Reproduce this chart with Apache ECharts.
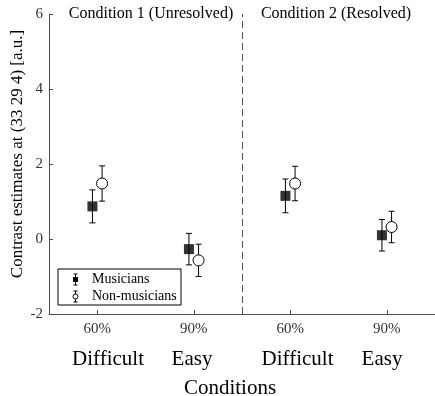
<!DOCTYPE html>
<html>
<head>
<meta charset="utf-8">
<script src="https://cdn.jsdelivr.net/npm/echarts@6/dist/echarts.min.js"></script>
<style>
  html, body { margin: 0; padding: 0; background: #fff; }
  #chart { width: 435px; height: 396px; }
</style>
</head>
<body>
<div id="chart"></div>
<script>
// Tick labels along the x axis and the difficulty label under each
const categories = ['60%', '90%', '60%', '90%'];
const difficulty = ['Difficult', 'Easy', 'Difficult', 'Easy'];
const conditionTitles = ['Condition 1 (Unresolved)', 'Condition 2 (Resolved)'];

// Contrast estimates (mean and error half-width) per group
const musiciansMean = [0.87, -0.27, 1.15, 0.10];
const musiciansErr = [0.44, 0.42, 0.45, 0.42];
const nonMusiciansMean = [1.48, -0.57, 1.48, 0.32];
const nonMusiciansErr = [0.47, 0.43, 0.46, 0.42];

// y-axis ticks
const yTicks = [-2, 0, 2, 4, 6];
// boundary between the two conditions (in category units)
const conditionSplit = 2.5;

const FONT = '"Liberation Serif", "Times New Roman", serif';
const AXIS_GREY = '#4d4d4d';
const GROUP_SHIFT = 0.05;

function points(means, shift) {
  return means.map((m, i) => [i + 1 + shift, m]);
}
function bars(means, errs, shift) {
  return means.map((m, i) => [i + 1 + shift, m - errs[i], m + errs[i]]);
}

function errorBarItem(params, api) {
  const x = api.value(0);
  const lo = api.coord([x, api.value(1)]);
  const hi = api.coord([x, api.value(2)]);
  const cap = 3;
  const style = { stroke: '#000', lineWidth: 1 };
  return {
    type: 'group',
    children: [
      { type: 'line', shape: { x1: lo[0], y1: lo[1], x2: hi[0], y2: hi[1] }, style },
      { type: 'line', shape: { x1: lo[0] - cap, y1: lo[1], x2: lo[0] + cap, y2: lo[1] }, style },
      { type: 'line', shape: { x1: hi[0] - cap, y1: hi[1], x2: hi[0] + cap, y2: hi[1] }, style }
    ]
  };
}

const chart = echarts.init(document.getElementById('chart'), null, { renderer: 'canvas' });

// legend box drawn as graphic elements (error bar glyph + marker + label)
const legendX = 58, legendY = 269, legendW = 123, legendH = 36;
function legendGlyph(cx, cy, filled) {
  const s = { stroke: '#000', lineWidth: 1 };
  const marker = filled
    ? { type: 'rect', shape: { x: cx - 2.5, y: cy - 2.5, width: 5, height: 5 }, style: { fill: '#000' } }
    : { type: 'circle', shape: { cx: cx, cy: cy, r: 2.5 }, style: { fill: '#fff', stroke: '#000', lineWidth: 1 } };
  return [
    { type: 'line', shape: { x1: cx, y1: cy - 5.5, x2: cx, y2: cy + 5.5 }, style: s },
    { type: 'line', shape: { x1: cx - 2, y1: cy - 5.5, x2: cx + 2, y2: cy - 5.5 }, style: s },
    { type: 'line', shape: { x1: cx - 2, y1: cy + 5.5, x2: cx + 2, y2: cy + 5.5 }, style: s },
    marker
  ];
}

const graphics = [
  {
    type: 'group', z: 100,
    children: [
      { type: 'rect', shape: { x: legendX, y: legendY, width: legendW, height: legendH },
        style: { fill: '#fff', stroke: '#000', lineWidth: 1 } },
      ...legendGlyph(75.5, 279.5, true),
      ...legendGlyph(75.5, 296.5, false),
      { type: 'text', x: 92, y: 279.5, style: { text: 'Musicians', font: '14px ' + FONT, fill: '#000', verticalAlign: 'middle' } },
      { type: 'text', x: 92, y: 296.5, style: { text: 'Non-musicians', font: '14px ' + FONT, fill: '#000', verticalAlign: 'middle' } }
    ]
  },
  { type: 'text', x: 151, y: 14, style: { text: conditionTitles[0], font: '16px ' + FONT, fill: '#000', align: 'center', verticalAlign: 'middle' } },
  { type: 'text', x: 336, y: 14, style: { text: conditionTitles[1], font: '16px ' + FONT, fill: '#000', align: 'center', verticalAlign: 'middle' } },
  { type: 'text', x: 230, y: 388, style: { text: 'Conditions', font: '21px ' + FONT, fill: '#000', align: 'center', verticalAlign: 'middle' } },
  // y-axis title, rotated
  { type: 'text', x: 18, y: 154, rotation: Math.PI / 2,
    style: { text: 'Contrast estimates at (33 29 4) [a.u.]', font: '17px ' + FONT, fill: '#000', align: 'center', verticalAlign: 'middle' } }
];
// difficulty labels under the percentage ticks
const diffX = [108, 192, 297.5, 382];
difficulty.forEach((t, i) => {
  graphics.push({ type: 'text', x: diffX[i], y: 359, style: { text: t, font: '21px ' + FONT, fill: '#000', align: 'center', verticalAlign: 'middle' } });
});

const option = {
  animation: false,
  backgroundColor: '#fff',
  grid: { left: 49, top: 14, width: 388, height: 300, containLabel: false },
  xAxis: [
    {
      type: 'category',
      data: categories,
      boundaryGap: true,
      axisLine: { show: true, onZero: false, lineStyle: { color: AXIS_GREY, width: 1 } },
      axisTick: { show: true, inside: true, alignWithLabel: true, length: 4, lineStyle: { color: AXIS_GREY } },
      axisLabel: { fontFamily: FONT, fontSize: 15, color: '#333', margin: 8 },
      splitLine: { show: false }
    },
    {
      type: 'value', min: 0.5, max: 4.5, show: false
    }
  ],
  yAxis: {
    type: 'value',
    min: yTicks[0], max: yTicks[yTicks.length - 1], interval: 2,
    axisLine: { show: true, onZero: false, lineStyle: { color: AXIS_GREY, width: 1 } },
    axisTick: { show: true, inside: true, length: 4, lineStyle: { color: AXIS_GREY } },
    axisLabel: { fontFamily: FONT, fontSize: 15, color: '#333', margin: 6 },
    splitLine: { show: false }
  },
  series: [
    {
      type: 'custom', name: 'Musicians err', xAxisIndex: 1,
      renderItem: errorBarItem,
      data: bars(musiciansMean, musiciansErr, -GROUP_SHIFT),
      encode: { x: 0, y: [1, 2] }, z: 2, silent: true,
      markLine: {
        silent: true, symbol: 'none', label: { show: false },
        lineStyle: { color: '#555', type: [7, 4], width: 1 },
        data: [{ xAxis: conditionSplit }]
      }
    },
    {
      type: 'custom', name: 'Non-musicians err', xAxisIndex: 1,
      renderItem: errorBarItem,
      data: bars(nonMusiciansMean, nonMusiciansErr, GROUP_SHIFT),
      encode: { x: 0, y: [1, 2] }, z: 2, silent: true
    },
    {
      type: 'scatter', name: 'Musicians', xAxisIndex: 1,
      symbol: 'rect', symbolSize: 10,
      itemStyle: { color: '#000' },
      data: points(musiciansMean, -GROUP_SHIFT), z: 3
    },
    {
      type: 'scatter', name: 'Non-musicians', xAxisIndex: 1,
      symbol: 'circle', symbolSize: 11,
      itemStyle: { color: '#fff', borderColor: '#000', borderWidth: 1, opacity: 1 },
      data: points(nonMusiciansMean, GROUP_SHIFT), z: 3
    }
  ],
  graphic: graphics
};

chart.setOption(option);
</script>
</body>
</html>
